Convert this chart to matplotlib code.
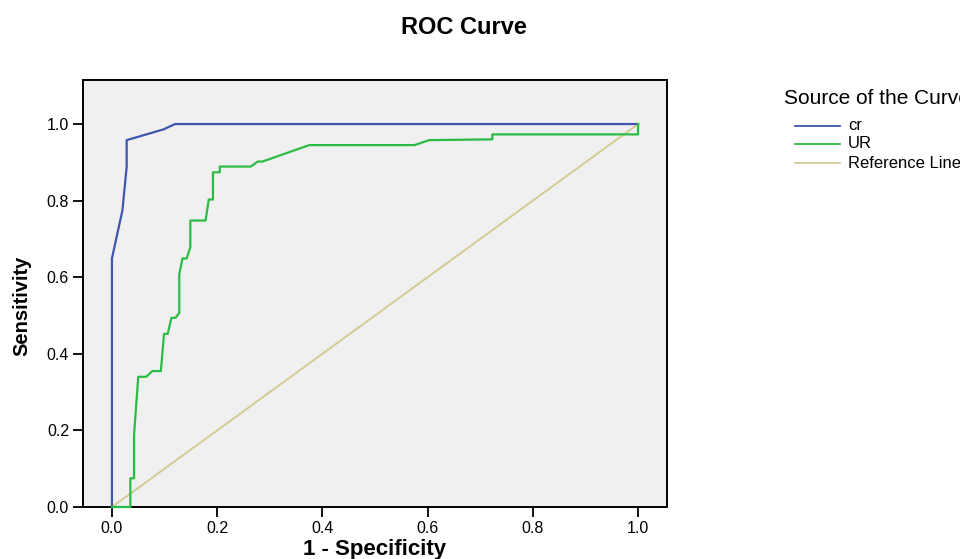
"""ROC curve for cr and UR, SPSS-like look."""

import matplotlib
matplotlib.use("Agg")
import matplotlib.pyplot as plt
from matplotlib.lines import Line2D

# 1 - specificity / sensitivity points
cr_fpr = [0.0, 0.0, 0.020, 0.028, 0.028, 0.098, 0.120, 1.0]
cr_tpr = [0.0, 0.649, 0.775, 0.889, 0.958, 0.986, 1.0, 1.0]

ur_fpr = [0.0, 0.035, 0.035, 0.042, 0.042, 0.050, 0.065, 0.077, 0.093, 0.099,
          0.106, 0.113, 0.121, 0.128, 0.128, 0.134, 0.142, 0.149, 0.149, 0.178,
          0.184, 0.192, 0.192, 0.205, 0.205, 0.264, 0.277, 0.286, 0.375, 0.575,
          0.603, 0.723, 0.723, 1.0, 1.0]
ur_tpr = [0.0, 0.0, 0.075, 0.075, 0.188, 0.340, 0.340, 0.355, 0.355, 0.452,
          0.452, 0.494, 0.494, 0.507, 0.608, 0.649, 0.649, 0.678, 0.748, 0.748,
          0.803, 0.803, 0.874, 0.874, 0.889, 0.889, 0.902, 0.902, 0.945, 0.945,
          0.958, 0.960, 0.973, 0.973, 1.0]

ref_x = [0.0, 1.0]
ref_y = [0.0, 1.0]

series_names = ["cr", "UR", "Reference Line"]
colors = ["#3F56B0", "#2DBB45", "#D3CB94"]
ticks = [0.0, 0.2, 0.4, 0.6, 0.8, 1.0]

W, H = 960, 559


def fx(px):
    return px / W


def fy(py):
    return 1 - py / H


plt.rcParams["font.family"] = ["Liberation Sans", "DejaVu Sans"]

fig = plt.figure(figsize=(9.6, 5.59), dpi=100)
ax = fig.add_axes([fx(83), fy(507), fx(667) - fx(83), fy(80) - fy(507)])
ax.set_facecolor("#F0F0F0")

ax.plot(cr_fpr, cr_tpr, color=colors[0], lw=1.6, clip_on=False, zorder=3)
ax.plot(ur_fpr, ur_tpr, color=colors[1], lw=1.6, clip_on=False, zorder=3)
ax.plot(ref_x, ref_y, color=colors[2], lw=1.4, zorder=2)

ax.set_xlim(-0.055, 1.055)
ax.set_ylim(0.0, 1.115)
ax.set_xticks(ticks)
ax.set_yticks(ticks)
ax.set_xticklabels([f"{t:.1f}" for t in ticks])
ax.set_yticklabels([f"{t:.1f}" for t in ticks])
ax.tick_params(direction="out", length=7, width=1.3, labelsize=11.5, colors="black", pad=3)
for s in ax.spines.values():
    s.set_linewidth(1.4)
    s.set_color("black")

# axis labels and title placed where the reference has them
fig.text(fx(375), fy(549), "1 - Specificity", fontsize=16, fontweight="bold",
         ha="center", va="center")
fig.text(fx(22), fy(306), "Sensitivity", fontsize=14.5, fontweight="bold",
         rotation=90, ha="center", va="center")
fig.text(fx(464), fy(27), "ROC Curve", fontsize=17, fontweight="bold",
         ha="center", va="center")

# legend, drawn by hand so it runs off the right edge like the reference
fig.text(fx(784), fy(99), "Source of the Curve", fontsize=15, ha="left", va="center")
entry_y = [126, 144, 163]
for name, color, py in zip(series_names, colors, entry_y):
    fig.add_artist(Line2D([fx(795), fx(840)], [fy(py), fy(py)], color=color, lw=1.3,
                          transform=fig.transFigure))
    fig.text(fx(848), fy(py), name, fontsize=12, ha="left", va="center")

fig.savefig("out.png", dpi=100)
